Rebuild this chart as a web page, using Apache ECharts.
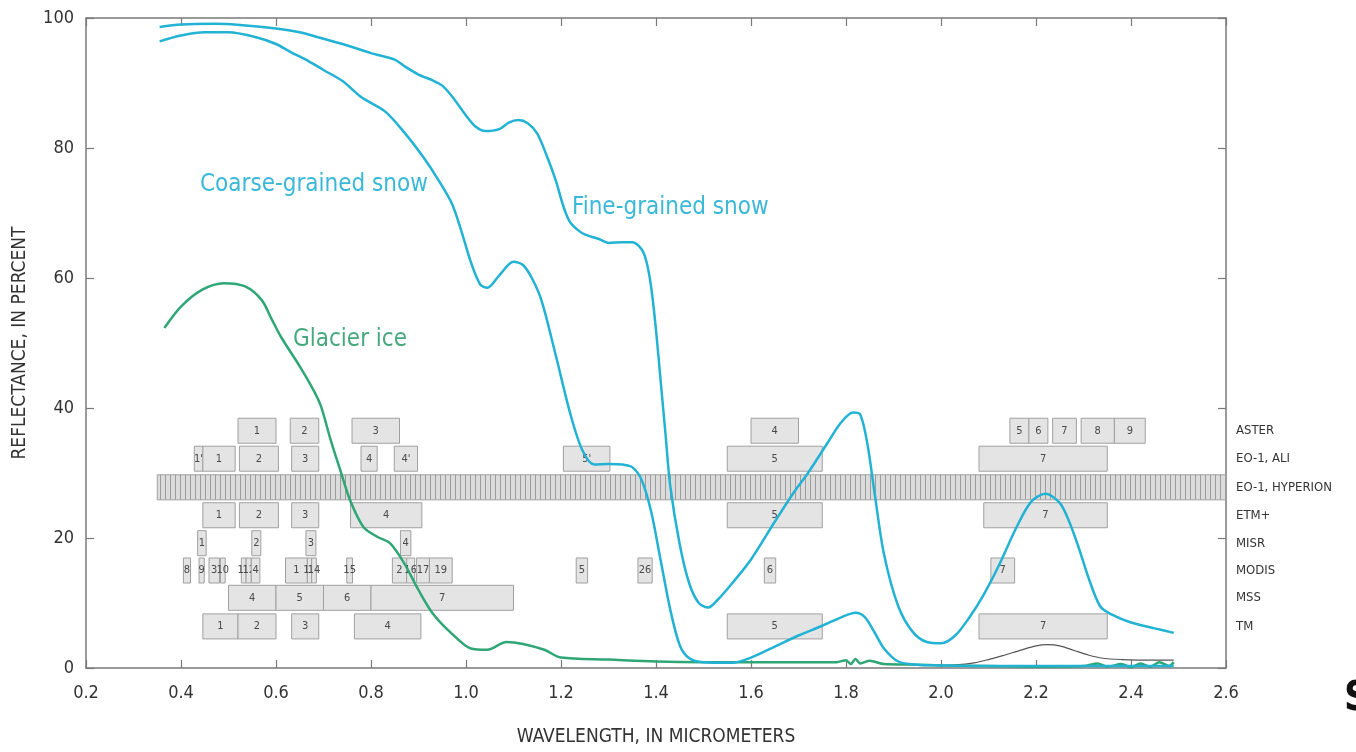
<!DOCTYPE html>
<html>
<head>
<meta charset="utf-8">
<script src="https://cdn.jsdelivr.net/npm/echarts@6/dist/echarts.min.js"></script>
<style>
  html, body { margin: 0; padding: 0; background: #fff; }
  #chart { width: 1356px; height: 752px; }
</style>
</head>
<body>
<div id="chart"></div>
<script>
// ---------------- DATA ----------------
const xTicks = [0.2, 0.4, 0.6, 0.8, 1.0, 1.2, 1.4, 1.6, 1.8, 2.0, 2.2, 2.4, 2.6];
const yTicks = [0, 20, 40, 60, 80, 100];

// Spectral curves: [wavelength (µm), reflectance (%)]
const fineSnow = [
  [0.355,98.6],[0.40,99.0],[0.47,99.1],[0.53,98.9],[0.60,98.4],[0.65,97.8],[0.69,97.0],[0.74,96.0],
  [0.80,94.6],[0.85,93.6],[0.87,92.6],[0.90,91.3],[0.93,90.4],[0.95,89.6],[0.97,88.0],[1.00,85.0],
  [1.02,83.3],[1.04,82.6],[1.07,82.9],[1.09,83.9],[1.11,84.3],[1.13,83.8],[1.15,82.2],[1.17,78.8],
  [1.19,74.8],[1.20,72.2],[1.21,70.0],[1.22,68.5],[1.235,67.4],[1.25,66.7],[1.28,66.0],[1.30,65.4],
  [1.33,65.5],[1.35,65.5],
  [1.37,64.4],[1.38,62.5],[1.39,58.5],[1.40,52.0],[1.41,44.0],[1.42,36.0],[1.43,28.0],[1.45,19.0],
  [1.47,13.0],[1.49,10.0],[1.51,9.3],[1.53,10.5],[1.56,13.0],[1.60,16.7],[1.65,22.5],[1.69,27.0],
  [1.72,30.0],[1.76,34.5],[1.79,37.8],[1.815,39.3],[1.83,39.0],[1.845,34.5],[1.86,27.0],[1.88,17.5],
  [1.91,9.5],[1.94,5.6],[1.97,4.0],[2.00,3.8],[2.03,5.0],[2.06,7.8],[2.09,11.3],[2.12,15.5],
  [2.16,21.8],[2.19,25.6],[2.22,26.8],[2.25,25.4],[2.27,22.5],[2.29,18.5],[2.31,14.0],[2.335,9.5],
  [2.36,8.2],[2.40,7.0],[2.45,6.1],[2.49,5.4]
];
const coarseSnow = [
  [0.355,96.4],[0.40,97.3],[0.45,97.8],[0.50,97.8],[0.56,97.0],[0.60,96.0],[0.63,94.8],[0.67,93.3],
  [0.70,92.0],[0.74,90.3],[0.78,87.8],[0.83,85.6],[0.87,82.4],[0.91,78.6],[0.94,75.3],[0.97,71.5],
  [0.99,67.3],[1.01,62.5],[1.03,59.0],[1.045,58.5],[1.07,60.4],[1.10,62.5],[1.12,62.0],[1.14,59.8],
  [1.16,56.3],[1.19,47.8],[1.22,39.0],[1.245,33.5],[1.27,31.3],[1.30,31.4],[1.33,31.3],[1.35,30.9],
  [1.37,28.9],[1.39,24.0],[1.41,16.5],[1.43,9.0],[1.45,3.5],[1.47,1.5],[1.50,0.9],[1.56,0.8],
  [1.60,1.6],[1.65,3.3],[1.70,5.0],[1.75,6.5],[1.79,7.8],[1.82,8.5],[1.84,7.8],[1.86,5.5],
  [1.88,3.0],[1.91,1.0],[1.95,0.5],[2.00,0.4],[2.10,0.3],[2.20,0.3],[2.30,0.3],[2.40,0.3],[2.49,0.3]
];
const glacierIce = [
  [0.365,52.3],[0.40,55.6],[0.445,58.2],[0.49,59.2],[0.535,58.7],[0.57,56.6],[0.59,53.8],[0.61,51.0],
  [0.65,46.4],[0.68,42.6],[0.695,40.2],[0.715,35.1],[0.735,30.5],[0.756,25.8],[0.784,21.7],[0.813,20.2],
  [0.84,19.2],[0.87,16.1],[0.90,12.0],[0.93,8.4],[0.97,5.3],[1.01,3.0],[1.045,2.8],[1.085,4.0],
  [1.12,3.7],[1.165,2.8],[1.20,1.6],[1.30,1.3],[1.40,1.0],[1.50,0.9],[1.60,0.9],[1.70,0.9],
  [1.78,0.9],[1.80,1.2],[1.81,0.6],[1.82,1.4],[1.83,0.7],[1.85,1.1],[1.88,0.6],[1.95,0.5],
  [2.00,0.4],[2.10,0.3],[2.20,0.2],[2.30,0.3],[2.33,0.7],[2.35,0.2],[2.38,0.6],[2.40,0.1],
  [2.42,0.7],[2.44,0.2],[2.46,0.9],[2.48,0.3],[2.49,0.9]
];
const thinCurve = [
  [1.98,0.4],[2.03,0.5],[2.07,0.8],[2.10,1.3],[2.13,1.9],[2.17,2.8],[2.20,3.4],[2.225,3.6],
  [2.25,3.4],[2.28,2.7],[2.31,2.0],[2.34,1.5],[2.38,1.3],[2.44,1.2],[2.49,1.2]
];

// Sensor rows (label, row centre in % units)
const instruments = ['ASTER', 'EO-1, ALI', 'EO-1, HYPERION', 'ETM+', 'MISR', 'MODIS', 'MSS', 'TM'];
const rowCenters = [36.5, 32.2, 27.8, 23.5, 19.2, 15.0, 10.8, 6.4];
const rowHeight = 3.85;

// Bands per sensor: [start µm, end µm, label]
const asterBands = [[0.52,0.60,'1'],[0.63,0.69,'2'],[0.76,0.86,'3'],[1.60,1.70,'4'],[2.145,2.185,'5'],
  [2.185,2.225,'6'],[2.235,2.285,'7'],[2.295,2.365,'8'],[2.365,2.43,'9']];
const aliBands = [[0.428,0.446,"1'"],[0.446,0.514,'1'],[0.523,0.605,'2'],[0.633,0.69,'3'],[0.779,0.813,'4'],
  [0.849,0.898,"4'"],[1.205,1.303,"5'"],[1.55,1.75,'5'],[2.08,2.35,'7']];
const hyperionBands = [[0.35,2.6,'']];
const etmBands = [[0.446,0.514,'1'],[0.523,0.605,'2'],[0.633,0.69,'3'],[0.757,0.907,'4'],[1.55,1.75,'5'],[2.09,2.35,'7']];
const misrBands = [[0.435,0.453,'1'],[0.549,0.568,'2'],[0.663,0.684,'3'],[0.862,0.884,'4']];
const modisBands = [[0.405,0.420,'8'],[0.438,0.449,'9'],[0.459,0.481,'3'],[0.483,0.493,'10'],[0.527,0.537,'11'],
  [0.537,0.548,'12'],[0.548,0.566,'4'],[0.620,0.666,'1'],[0.666,0.675,'13'],[0.675,0.685,'14'],[0.749,0.761,'15'],
  [0.845,0.875,'2'],[0.875,0.892,'16'],[0.896,0.923,'17'],[0.923,0.971,'19'],[1.232,1.256,'5'],[1.362,1.392,'26'],
  [1.628,1.652,'6'],[2.105,2.155,'7']];
const mssBands = [[0.5,0.6,'4'],[0.6,0.7,'5'],[0.7,0.8,'6'],[0.8,1.1,'7']];
const tmBands = [[0.446,0.52,'1'],[0.52,0.60,'2'],[0.633,0.69,'3'],[0.765,0.905,'4'],[1.55,1.75,'5'],[2.08,2.35,'7']];

const bandsByRow = [asterBands, aliBands, hyperionBands, etmBands, misrBands, modisBands, mssBands, tmBands];

// ---------------- BUILD ----------------
const FONT = "'Liberation Sans Narrow', 'DejaVu Sans Condensed', 'Roboto Condensed', 'Liberation Sans', sans-serif";
const CYAN = '#22b2d4';
const GREEN = '#2fa676';
const AXIS = '#7a7a7a';

const bandItems = [];
bandsByRow.forEach((arr, row) => arr.forEach(b => bandItems.push({ value: [b[0], b[1], row], label: b[2] })));

// Hyperion stripe pattern
const pat = document.createElement('canvas');
pat.width = 5; pat.height = 4;
const pctx = pat.getContext('2d');
pctx.fillStyle = '#dcdcdc'; pctx.fillRect(0, 0, 5, 4);
pctx.fillStyle = '#9c9c9c'; pctx.fillRect(0, 0, 1, 4);

const chart = echarts.init(document.getElementById('chart'), null, { renderer: 'canvas' });

function renderBand(params, api) {
  const item = bandItems[params.dataIndex];
  const row = api.value(2);
  const yc = rowCenters[row];
  const p0 = api.coord([api.value(0), yc + rowHeight / 2]);
  const p1 = api.coord([api.value(1), yc - rowHeight / 2]);
  const isHyp = instruments[row] === 'EO-1, HYPERION';
  const children = [{
    type: 'rect',
    shape: { x: p0[0], y: p0[1], width: p1[0] - p0[0], height: p1[1] - p0[1] },
    style: { fill: isHyp ? { image: pat, repeat: 'repeat' } : '#e4e4e4', stroke: '#a0a0a0', lineWidth: 1 }
  }];
  if (item.label) {
    children.push({
      type: 'text',
      style: { text: item.label, x: (p0[0] + p1[0]) / 2, y: (p0[1] + p1[1]) / 2, align: 'center',
        verticalAlign: 'middle', fill: '#4a4a4a', font: '11px ' + FONT }
    });
  }
  return { type: 'group', children };
}

function renderRowLabel(params, api) {
  const p = api.coord([2.6, api.value(0)]);
  return {
    type: 'text',
    style: { text: instruments[params.dataIndex], x: p[0] + 10, y: p[1], align: 'left', verticalAlign: 'middle',
      fill: '#333', font: '13px ' + FONT }
  };
}

function lineSeries(name, data, color, width, z) {
  return {
    name, type: 'line', data, showSymbol: false, smooth: 0.3, z,
    lineStyle: { color, width }, itemStyle: { color }, silent: true
  };
}

const axisCommon = {
  type: 'value', min: 0.2, max: 2.6, interval: 0.2,
  axisLine: { show: true, onZero: false, lineStyle: { color: AXIS, width: 1.5 } },
  axisTick: { show: true, inside: true, length: 8, lineStyle: { color: AXIS, width: 1.2 } },
  splitLine: { show: false }
};
const yCommon = {
  type: 'value', min: 0, max: 100, interval: 20,
  axisLine: { show: true, onZero: false, lineStyle: { color: AXIS, width: 1.5 } },
  axisTick: { show: true, inside: true, length: 8, lineStyle: { color: AXIS, width: 1.2 } },
  splitLine: { show: false }
};

chart.setOption({
  animation: false,
  backgroundColor: '#fff',
  grid: { left: 86, right: 130, top: 18, bottom: 84, containLabel: false },
  xAxis: [
    Object.assign({}, axisCommon, {
      position: 'bottom',
      axisLabel: { formatter: v => v.toFixed(1), fontSize: 18, color: '#333', margin: 16, fontFamily: FONT,
        showMinLabel: true, showMaxLabel: true },
      name: 'WAVELENGTH, IN MICROMETERS', nameLocation: 'middle', nameGap: 60,
      nameTextStyle: { fontSize: 19, color: '#333', fontFamily: FONT }
    }),
    Object.assign({}, axisCommon, { position: 'top', axisLabel: { show: false } })
  ],
  yAxis: [
    Object.assign({}, yCommon, {
      position: 'left',
      axisLabel: { fontSize: 18, color: '#333', margin: 12, fontFamily: FONT },
      name: 'REFLECTANCE, IN PERCENT', nameLocation: 'middle', nameGap: 56, nameRotate: 90,
      nameTextStyle: { fontSize: 19, color: '#333', fontFamily: FONT }
    }),
    Object.assign({}, yCommon, { position: 'right', axisLabel: { show: false } })
  ],
  series: [
    { type: 'custom', name: 'bands', renderItem: renderBand, data: bandItems.map(b => b.value),
      encode: { x: [0, 1], y: 2 }, z: 1, silent: true, clip: false },
    { type: 'custom', name: 'rows', renderItem: renderRowLabel, data: rowCenters.map(v => [v]),
      encode: { y: 0 }, z: 1, silent: true, clip: false },
    lineSeries('Thin', thinCurve, '#555', 1.2, 3),
    lineSeries('Glacier ice', glacierIce, GREEN, 2.5, 4),
    lineSeries('Coarse-grained snow', coarseSnow, CYAN, 2.5, 5),
    lineSeries('Fine-grained snow', fineSnow, CYAN, 2.5, 5)
  ],
  graphic: [
    { type: 'text', left: 200, top: 173, style: { text: 'Coarse-grained snow', fill: '#3ab8d8', font: '24px ' + FONT } },
    { type: 'text', left: 572, top: 196, style: { text: 'Fine-grained snow', fill: '#3ab8d8', font: '24px ' + FONT } },
    { type: 'text', left: 293, top: 328, style: { text: 'Glacier ice', fill: '#46a97d', font: '24px ' + FONT } },
    { type: 'text', left: 1344, top: 680, style: { text: 'S', fill: '#111', font: 'bold 40px ' + FONT } }
  ]
});
</script>
</body>
</html>
